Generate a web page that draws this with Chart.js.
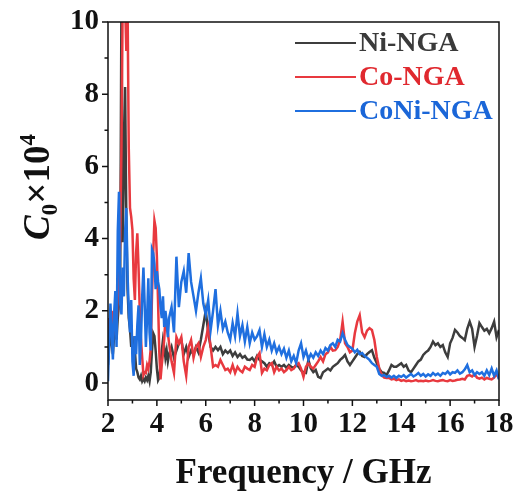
<!DOCTYPE html>
<html>
<head>
<meta charset="utf-8">
<script src="https://cdn.jsdelivr.net/npm/chart.js@4.4.0/dist/chart.umd.min.js"></script>
<style>
  html, body { margin: 0; padding: 0; background: #fff; }
</style>
</head>
<body>
<canvas id="c0-chart" width="518" height="499"></canvas>
<script>
const freqs = [
  2, 2.05, 2.1, 2.15, 2.2, 2.25, 2.3, 2.35, 2.4, 2.45,
  2.5, 2.55, 2.6, 2.65, 2.7, 2.75, 2.8, 2.85, 2.9, 2.95,
  3, 3.05, 3.1, 3.15, 3.2, 3.25, 3.3, 3.35, 3.4, 3.45,
  3.5, 3.55, 3.6, 3.65, 3.7, 3.75, 3.8, 3.85, 3.9, 3.95,
  4, 4.05, 4.1, 4.15, 4.2, 4.25, 4.3, 4.35, 4.4, 4.45,
  4.5, 4.6, 4.7, 4.8, 4.9,
  5, 5.1, 5.2, 5.3, 5.4, 5.5, 5.6, 5.7, 5.8, 5.9,
  6, 6.1, 6.2, 6.3, 6.4, 6.5, 6.6, 6.7, 6.8, 6.9,
  7, 7.1, 7.2, 7.3, 7.4, 7.5, 7.6, 7.7, 7.8, 7.9,
  8, 8.1, 8.2, 8.3, 8.4, 8.5, 8.6, 8.7, 8.8, 8.9,
  9, 9.1, 9.2, 9.3, 9.4, 9.5, 9.6, 9.7, 9.8, 9.9,
  10, 10.1, 10.2, 10.3, 10.4, 10.5, 10.6, 10.7, 10.8, 10.9,
  11, 11.1, 11.2, 11.3, 11.4, 11.5, 11.6, 11.7, 11.8, 11.9,
  12, 12.1, 12.2, 12.3, 12.4, 12.5, 12.6, 12.7, 12.8, 12.9,
  13, 13.1, 13.2, 13.3, 13.4, 13.5, 13.6, 13.7, 13.8, 13.9,
  14, 14.1, 14.2, 14.3, 14.4, 14.5, 14.6, 14.7, 14.8, 14.9,
  15, 15.1, 15.2, 15.3, 15.4, 15.5, 15.6, 15.7, 15.8, 15.9,
  16, 16.1, 16.2, 16.3, 16.4, 16.5, 16.6, 16.7, 16.8, 16.9,
  17, 17.1, 17.2, 17.3, 17.4, 17.5, 17.6, 17.7, 17.8, 17.9,
  18
];

// C0 x 10^4 for each sample
const niNGA = [
  0.5, 1.0, 1.4, 1.1, 0.8, 1.3, 1.6, 1.2, 1.8, 2.2,
  3.0, 10.5, 3.9, 6.0, 8.2, 4.5, 2.6, 1.8, 1.5, 1.0,
  1.3, 0.6, 0.9, 0.4, 0.3, 0.15, 0.1, 0.2, 0.05, 0.12,
  0.05, 0.15, 0.08, 0.2, 0.05, 0.3, 0.9, 1.38, 1.3, 0.9,
  0.4, 0.08, 0.15, 0.5, 0.9, 1.2, 1.0, 0.7, 0.9, 0.6,
  0.8, 1.0, 0.7, 0.9, 1.1,
  1.19, 0.8, 1.0, 0.72, 0.9, 0.8, 1.0, 0.85, 1.2, 1.6,
  2.0, 1.4, 1.0, 0.9, 1.0, 0.91, 1.0, 0.8, 0.9, 0.83,
  0.9, 0.75, 0.85, 0.72, 0.8, 0.7, 0.75, 0.65, 0.64, 0.7,
  0.6, 0.75, 0.64, 0.6, 0.55, 0.45, 0.55, 0.5, 0.6, 0.45,
  0.5, 0.45, 0.5, 0.42, 0.5, 0.45, 0.42, 0.5, 0.45, 0.35,
  0.3, 0.28, 0.64, 0.4, 0.3, 0.36, 0.17, 0.14, 0.3, 0.35,
  0.4, 0.35, 0.45, 0.5, 0.55, 0.64, 0.7, 0.78, 0.6, 0.5,
  0.6, 0.7, 0.8, 0.86, 0.75, 0.72, 0.8, 0.86, 0.91, 0.7,
  0.55, 0.4, 0.3, 0.28, 0.22, 0.35, 0.5, 0.45, 0.45, 0.5,
  0.55, 0.45, 0.5, 0.35, 0.3, 0.4, 0.5, 0.6, 0.65, 0.78,
  0.85, 0.9, 1.0, 1.15, 1.05, 1.1, 1.0, 1.05, 0.85, 0.72,
  1.1, 1.25, 1.47, 1.4, 1.3, 1.25, 1.19, 1.5, 1.7, 1.5,
  1.0, 1.3, 1.66, 1.55, 1.45, 1.5, 1.38, 1.52, 1.7, 1.27,
  1.47
];

const coNGA = [
  1.2, 1.8, 1.5, 2.0, 1.3, 1.7, 2.2, 1.6, 2.5, 3.0,
  4.0, 6.5, 10.5, 10.5, 10.5, 9.2, 10.5, 6.5, 4.85, 4.6,
  4.24, 2.9, 2.3, 3.6, 4.15, 3.2, 2.0, 1.2, 0.7, 0.22,
  0.3, 0.28, 0.5, 0.4, 0.6, 0.97, 2.4, 3.6, 4.5, 4.3,
  3.5, 2.2, 0.83, 0.1, 0.5, 0.83, 1.2, 1.8, 1.5, 1.38,
  1.1, 0.6, 0.28, 1.27, 1.1,
  1.27, 0.6, 0.2, 1.0, 1.19, 0.7, 1.0, 1.1, 0.72, 1.0,
  1.19, 1.55, 1.0, 0.45, 0.5, 0.45, 0.64, 0.5, 0.36, 0.4,
  0.3, 0.5, 0.28, 0.45, 0.35, 0.3, 0.45, 0.4, 0.36, 0.5,
  0.45, 0.72, 0.83, 0.28, 0.4, 0.35, 0.5, 0.55, 0.3, 0.45,
  0.35, 0.4, 0.3, 0.36, 0.45, 0.36, 0.4, 0.5, 0.55, 0.4,
  0.17, 0.45, 0.55, 0.45, 0.4, 0.5, 0.6, 0.72, 0.6, 0.8,
  0.85, 1.0, 0.9, 0.91, 1.0, 1.19, 1.7, 1.1, 1.0, 0.85,
  0.9, 1.38, 1.7, 1.88, 1.4, 1.27, 1.45, 1.52, 1.47, 1.19,
  0.72, 0.4, 0.22, 0.15, 0.14, 0.14, 0.1, 0.12, 0.08, 0.1,
  0.06, 0.08, 0.05, 0.07, 0.05, 0.06, 0.08, 0.05, 0.06, 0.05,
  0.07, 0.05, 0.06, 0.08, 0.06, 0.05, 0.07, 0.08, 0.06, 0.05,
  0.08, 0.06, 0.07, 0.09, 0.1, 0.12, 0.1, 0.2, 0.22, 0.18,
  0.24, 0.15, 0.12, 0.15, 0.1, 0.14, 0.12, 0.1, 0.15, 0.25,
  0.12
];

const coniNGA = [
  0.05, 1.2, 2.2, 1.4, 0.65, 1.9, 2.55, 1.0, 4.2, 5.3,
  2.2, 1.9, 3.2, 2.4, 4.2, 4.85, 3.0, 2.0, 1.4, 2.3,
  0.6, 0.2, 1.3, 0.8, 1.6, 2.15, 0.5, 1.2, 2.4, 3.2,
  2.2, 1.0, 1.8, 2.9, 1.4, 0.9, 3.7, 3.6, 3.3, 2.6,
  3.1, 2.8, 2.6, 2.1, 1.8, 2.4, 1.55, 2.0, 1.7, 1.27,
  1.8, 2.1, 1.4, 3.5, 2.1,
  2.8, 3.1, 2.5, 3.6, 2.8, 2.4, 2.0, 2.5, 2.9, 2.2,
  1.9, 2.3, 1.47, 2.0, 2.6, 1.6, 2.0, 1.5, 1.7, 1.4,
  1.2, 1.66, 1.3, 1.93, 1.3, 1.6, 1.15, 1.55, 1.1, 1.4,
  1.2, 1.3, 1.47, 1.0, 1.35, 1.0, 1.2, 0.9, 1.1, 0.85,
  1.0, 0.8, 0.95, 0.7, 0.9, 0.6, 0.75, 0.55, 0.9, 1.1,
  0.72, 0.9, 0.65, 0.8, 0.7, 0.85, 0.75, 0.9, 0.8, 0.97,
  0.9, 1.05, 1.1, 1.0, 1.2, 1.15, 1.38, 1.2, 1.05, 1.0,
  0.95, 0.85, 0.92, 0.8, 0.83, 0.75, 0.7, 0.64, 0.55, 0.5,
  0.45, 0.25, 0.2, 0.22, 0.17, 0.2, 0.15, 0.2, 0.14, 0.2,
  0.17, 0.22, 0.15, 0.2, 0.25, 0.18, 0.22, 0.28, 0.2, 0.25,
  0.18, 0.24, 0.2, 0.28, 0.22, 0.26, 0.2, 0.28, 0.25, 0.32,
  0.24, 0.3, 0.28, 0.35, 0.26, 0.3, 0.38, 0.5, 0.3, 0.35,
  0.22, 0.3, 0.25, 0.3, 0.2, 0.35, 0.22, 0.4, 0.2, 0.35,
  0.1
];

const seriesNames = ['Ni-NGA', 'Co-NGA', 'CoNi-NGA'];
const xTicks = [2, 4, 6, 8, 10, 12, 14, 16, 18];
const yTicks = [0, 2, 4, 6, 8, 10];

const lineColors = ['#3d3d3d', '#e8393f', '#1f6fdf'];
const textColors = ['#3a3a3a', '#e0292f', '#1a66d8'];
const serif = '"Liberation Serif", "DejaVu Serif", serif';

const toPoints = (vals) => freqs.map((f, i) => ({ x: f, y: vals[i] }));

// frame, outward ticks, axis titles and the legend
const decorations = {
  id: 'decorations',
  afterDraw(chart) {
    const { ctx, chartArea: a, scales: { x, y } } = chart;
    ctx.save();
    ctx.strokeStyle = '#111';
    ctx.lineWidth = 1.5;
    ctx.strokeRect(a.left, a.top, a.right - a.left, a.bottom - a.top);

    ctx.beginPath();
    for (let v = 2; v <= 18; v++) {
      const px = x.getPixelForValue(v);
      const len = v % 2 === 0 ? 6 : 3.5;
      ctx.moveTo(px, a.bottom);
      ctx.lineTo(px, a.bottom + len);
    }
    for (let v = 0; v <= 10; v++) {
      const py = y.getPixelForValue(v);
      const len = v % 2 === 0 ? 6 : 3.5;
      ctx.moveTo(a.left, py);
      ctx.lineTo(a.left - len, py);
    }
    ctx.stroke();

    ctx.fillStyle = '#111';
    ctx.font = 'bold 35px ' + serif;
    ctx.textAlign = 'center';
    ctx.textBaseline = 'alphabetic';
    ctx.fillText('Frequency / GHz', (a.left + a.right) / 2, 483);

    // y title: C0 x 10^4, rotated
    ctx.save();
    ctx.translate(49, 187);
    ctx.rotate(-Math.PI / 2);
    const parts = [
      { t: 'C', font: 'italic bold 37px ' + serif, dy: 0 },
      { t: '0', font: 'bold 23px ' + serif, dy: 8 },
      { t: '\u00d710', font: 'bold 37px ' + serif, dy: 0 },
      { t: '4', font: 'bold 23px ' + serif, dy: -14 }
    ];
    let total = 0;
    parts.forEach(p => { ctx.font = p.font; p.w = ctx.measureText(p.t).width; total += p.w; });
    let cx = -total / 2;
    ctx.textAlign = 'left';
    parts.forEach(p => {
      ctx.font = p.font;
      ctx.fillText(p.t, cx, p.dy);
      cx += p.w;
    });
    ctx.restore();

    chart.data.datasets.forEach((ds, i) => {
      const ly = 43 + i * 34;
      ctx.strokeStyle = ds.borderColor;
      ctx.lineWidth = 2;
      ctx.beginPath();
      ctx.moveTo(295, ly);
      ctx.lineTo(356, ly);
      ctx.stroke();
      ctx.fillStyle = textColors[i];
      ctx.font = 'bold 28px ' + serif;
      ctx.textAlign = 'left';
      ctx.textBaseline = 'middle';
      ctx.fillText(ds.label, 359, ly + 1);
    });
    ctx.restore();
  }
};

const tickFont = { family: serif, weight: 'bold', size: 29 };

new Chart(document.getElementById('c0-chart'), {
  type: 'line',
  data: {
    datasets: [niNGA, coNGA, coniNGA].map((vals, i) => ({
      label: seriesNames[i],
      data: toPoints(vals),
      borderColor: lineColors[i],
      borderWidth: 2.5,
      pointRadius: 0,
      tension: 0,
      clip: 0,
      order: 3 - i
    }))
  },
  options: {
    responsive: false,
    animation: false,
    events: [],
    layout: { padding: { top: 22, right: 19, left: 0, bottom: 0 } },
    plugins: { legend: { display: false }, tooltip: { enabled: false } },
    scales: {
      x: {
        type: 'linear',
        min: 2,
        max: 18,
        afterBuildTicks: (s) => { s.ticks = xTicks.map(v => ({ value: v })); },
        afterFit: (s) => { s.height = 99; s.paddingLeft = 0; s.paddingRight = 0; },
        grid: { display: false, drawTicks: false },
        border: { display: false },
        ticks: { padding: 7, color: '#111', font: tickFont, maxRotation: 0, autoSkip: false }
      },
      y: {
        type: 'linear',
        min: -0.47,
        max: 10,
        afterBuildTicks: (s) => { s.ticks = yTicks.map(v => ({ value: v })); },
        afterFit: (s) => { s.width = 108; s.paddingTop = 0; s.paddingBottom = 0; },
        grid: { display: false, drawTicks: false },
        border: { display: false },
        ticks: { padding: 9, color: '#111', font: tickFont }
      }
    }
  },
  plugins: [decorations]
});
</script>
</body>
</html>
